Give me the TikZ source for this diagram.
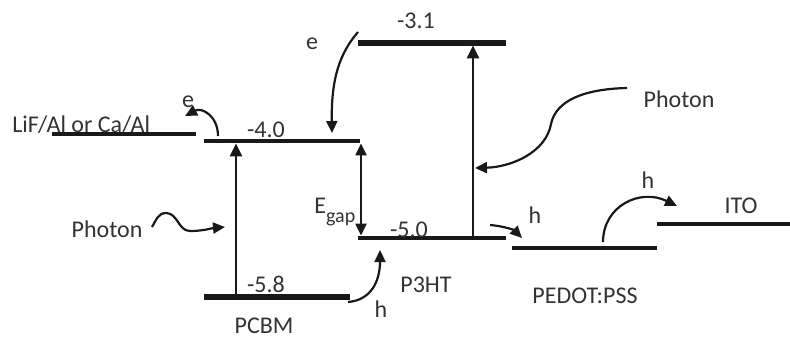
\documentclass[tikz,border=0pt]{standalone}
\usepackage{fontspec}
\setmainfont{Carlito}
\usetikzlibrary{arrows.meta,calc}

\begin{document}
\begin{tikzpicture}[
    % one unit is one pixel of the 790x338 frame
    x=0.5pt, y=0.5pt,
    % general settings
    font=\fontsize{12}{14}\selectfont,
    % energy levels
    band/.style={line width=2.4pt, black!90},
    deepband/.style={band, line width=3.2pt},
    % labels
    txt/.style={inner sep=0pt, anchor=base, text=black!80},
    % arrows
    excite/.style={-{Triangle[length=6.5pt,width=6pt]}, line width=1.3pt, black!90, shorten >=1.2pt},
    gaparr/.style={{Triangle[length=6pt,width=5.5pt]}-{Triangle[length=6pt,width=5.5pt]}, line width=1.1pt, black!90, shorten <=1.2pt, shorten >=1.2pt},
    hop/.style={-{Triangle[length=6pt,width=5.5pt]}, line width=1.1pt, black!90},
  ]

  \useasboundingbox (0,0) rectangle (790,338);

  % level end points
  \coordinate (lifL)    at (52,204);   \coordinate (lifR)    at (196,204);
  \coordinate (pcbmLL)  at (204,197);  \coordinate (pcbmLR)  at (360,197);
  \coordinate (pcbmHL)  at (204,41);   \coordinate (pcbmHR)  at (350,41);
  \coordinate (p3htLL)  at (358,295);  \coordinate (p3htLR)  at (506,295);
  \coordinate (p3htHL)  at (358,100);  \coordinate (p3htHR)  at (506,100);
  \coordinate (pedotL)  at (512,90);   \coordinate (pedotR)  at (657,90);
  \coordinate (itoL)    at (657,114);  \coordinate (itoR)    at (790,114);

  \draw[band]     (lifL)   -- (lifR);
  \draw[band]     (pcbmLL) -- (pcbmLR);
  \draw[deepband] (pcbmHL) -- (pcbmHR);
  \draw[deepband] (p3htLL) -- (p3htLR);
  \draw[band]     (p3htHL) -- (p3htHR);
  \draw[band]     (pedotL) -- (pedotR);
  \draw[band]     (itoL)   -- (itoR);

  % labels
  \node (lif)    [txt, anchor=base west] at (12,206)  {LiF/Al or Ca/Al};
  \node (eout)   [txt] at (188,231) {e};
  \node (v40)    [txt] at (266,201) {-4.0};
  \node (ein)    [txt] at (312,288) {e};
  \node (v31)    [txt] at (416,309) {-3.1};
  \node (phR)    [txt] at (679,231) {Photon};
  \node (phL)    [txt] at (107,101) {Photon};
  \node (egap)   [txt, anchor=base west] at (314,125) {E\raisebox{-4.5pt}{\fontsize{10}{12}\selectfont gap}};
  \node (v50)    [txt] at (409,101) {-5.0};
  \node (v58)    [txt] at (266,46)  {-5.8};
  \node (hup)    [txt] at (381,21)  {h};
  \node (pcbm)   [txt] at (264,5)   {PCBM};
  \node (p3ht)   [txt] at (426,46)  {P3HT};
  \node (pedot)  [txt] at (585,35)  {PEDOT:PSS};
  \node (hmid)   [txt] at (535,115) {h};
  \node (hito)   [txt] at (648,150) {h};
  \node (ito)    [txt] at (741,125) {ITO};

  % excitation and gap arrows
  \coordinate (pcbmexc) at (236,41);
  \coordinate (p3htexc) at (473,100);
  \coordinate (gapbot)  at (361,100);

  \draw[excite] (pcbmexc) -- (pcbmexc |- pcbmLL);
  \draw[excite] (p3htexc) -- (p3htexc |- p3htLL);
  \draw[gaparr] (gapbot |- pcbmLL) -- (gapbot);

  % photons
  \coordinate (phLtail) at (152,111);
  \coordinate (phLtip)  at (225,111);
  \coordinate (phRtail) at (627,250);
  \coordinate (phRtip)  at (475,170);

  \draw[hop] (phLtail) to[out=60,in=180] ++(14,14) to[out=0,in=180] ++(24,-18) to[out=0,in=185] (phLtip);
  \draw[hop] (phRtail) .. controls (585,249) and (556,238) .. (551,214)
                       .. controls (546,186) and (512,171) .. (phRtip);

  % electron and hole transfer
  \coordinate (einfrom)  at (358,306);
  \coordinate (einto)    at (332,205);
  \coordinate (eoutfrom) at (218,202);
  \coordinate (eoutto)   at (185,222);
  \coordinate (hupfrom)  at (348,36);
  \coordinate (hupto)    at (380,88);
  \coordinate (hmidfrom) at (490,113);
  \coordinate (hmidto)   at (522,100);
  \coordinate (hitofrom) at (603,96);
  \coordinate (hitoto)   at (677,132);

  \draw[hop] (einfrom)  .. controls (340,285) and (331,260) .. (einto);
  \draw[hop] (eoutfrom) .. controls (218,222) and (202,231) .. (eoutto);
  \draw[hop] (hupfrom)  .. controls (372,38) and (380,58)   .. (hupto);
  \draw[hop] (hmidfrom) .. controls (503,112) and (514,108) .. (hmidto);
  \draw[hop] (hitofrom) .. controls (603,132) and (640,150) .. (hitoto);

\end{tikzpicture}
\end{document}
